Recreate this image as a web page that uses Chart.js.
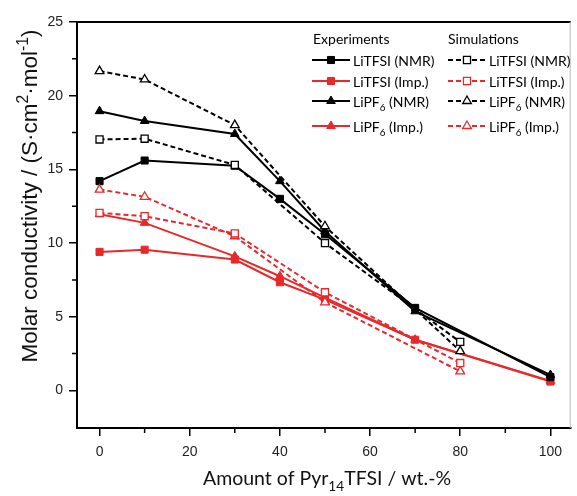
<!DOCTYPE html>
<html>
<head>
<meta charset="utf-8">
<script src="https://cdn.jsdelivr.net/npm/chart.js@4/dist/chart.umd.min.js"></script>
<style>
  html, body { margin: 0; padding: 0; background: #fff; }
  #wrap { width: 577px; height: 496px; }
</style>
</head>
<body>
<div id="wrap"><canvas id="chart" width="577" height="496"></canvas></div>
<script>
// x positions (wt.-% Pyr14TFSI)
const expX = [0, 10, 30, 40, 50, 70, 100];
const simX = [0, 10, 30, 50, 80];

// Experiments
const expTfsiNmr = [14.2, 15.6, 15.25, 13.0, 10.6, 5.6, 0.9];
const expTfsiImp = [9.4, 9.55, 8.88, 7.34, 6.16, 3.44, 0.6];
const expPf6Nmr  = [18.95, 18.28, 17.4, 14.2, 10.8, 5.37, 1.05];
const expPf6Imp  = [11.95, 11.37, 9.1, 7.75, 6.3, 3.44, 0.65];

// Simulations
const simTfsiNmr = [17.03, 17.08, 15.3, 10.0, 3.29];
const simTfsiImp = [12.05, 11.82, 10.65, 6.66, 1.86];
const simPf6Nmr  = [21.67, 21.1, 18.0, 11.14, 2.67];
const simPf6Imp  = [13.63, 13.14, 10.46, 5.98, 1.29];

// ticks
const xMajor = [0, 20, 40, 60, 80, 100];
const xMinor = [10, 30, 50, 70, 90];
const yMajor = [0, 5, 10, 15, 20, 25];
const yMinor = [2.5, 7.5, 12.5, 17.5, 22.5];

const BLACK = '#000000';
const RED = '#e8282b';

function pts(xs, ys) {
    return xs.map((x, i) => ({ x: x, y: ys[i] }));
}

function series(label, xs, ys, color, shape, sim, legendCol, legendRow) {
    return {
        label: label,
        data: pts(xs, ys),
        borderColor: color,
        backgroundColor: sim ? '#ffffff' : color,
        borderWidth: 2,
        borderDash: sim ? [5, 3] : [],
        pointStyle: shape,
        pointRadius: 5,
        pointBorderWidth: sim ? 1.3 : 1,
        pointBorderColor: color,
        pointBackgroundColor: sim ? '#ffffff' : color,
        tension: 0,
        legendCol: legendCol,
        legendRow: legendRow
    };
}

// first dataset is drawn on top, so the open (simulation) markers go first
const datasets = [
    series('LiTFSI (NMR)', simX, simTfsiNmr, BLACK, 'rect', true, 1, 0),
    series('LiTFSI (Imp.)', simX, simTfsiImp, RED, 'rect', true, 1, 1),
    series('LiPF|6| (NMR)', simX, simPf6Nmr, BLACK, 'triangle', true, 1, 2),
    series('LiPF|6| (Imp.)', simX, simPf6Imp, RED, 'triangle', true, 1, 3),
    series('LiTFSI (NMR)', expX, expTfsiNmr, BLACK, 'rect', false, 0, 0),
    series('LiTFSI (Imp.)', expX, expTfsiImp, RED, 'rect', false, 0, 1),
    series('LiPF|6| (NMR)', expX, expPf6Nmr, BLACK, 'triangle', false, 0, 2),
    series('LiPF|6| (Imp.)', expX, expPf6Imp, RED, 'triangle', false, 0, 3)
];

// rich text: parts are [text, shift] with shift 1 = superscript, -1 = subscript
function richWidth(ctx, parts, size, family) {
    let w = 0;
    parts.forEach(p => {
        const s = p[1] === 0 ? size : size * 0.7;
        ctx.font = s + 'px ' + family;
        w += ctx.measureText(p[0]).width;
    });
    return w;
}

function drawRich(ctx, parts, x, y, size, family, color) {
    ctx.fillStyle = color;
    ctx.textBaseline = 'alphabetic';
    ctx.textAlign = 'left';
    let cx = x;
    parts.forEach(p => {
        const s = p[1] === 0 ? size : size * 0.7;
        let dy = 0;
        if (p[1] === 1) dy = -size * 0.42;
        if (p[1] === -1) dy = size * 0.3;
        ctx.font = s + 'px ' + family;
        ctx.fillText(p[0], cx, y + dy);
        cx += ctx.measureText(p[0]).width;
    });
}

// "LiPF|6| (NMR)" -> [['LiPF',0],['6',-1],[' (NMR)',0]]
function labelParts(label) {
    return label.split('|').map((t, i) => [t, i % 2 === 1 ? -1 : 0]).filter(p => p[0].length);
}

const yTitle = [['Molar conductivity / (S\u00b7cm', 0], ['2', 1], ['\u00b7mol', 0], ['-1', 1], [')', 0]];
const xTitle = [['Amount of Pyr', 0], ['14', -1], ['TFSI / wt.-%', 0]];

const framePlugin = {
    id: 'frame',
    afterDraw(chart) {
        const ctx = chart.ctx;
        const a = chart.chartArea;
        const xs = chart.scales.x;
        const ys = chart.scales.y;
        ctx.save();

        // top and right frame
        ctx.strokeStyle = '#000';
        ctx.lineWidth = 2;
        ctx.beginPath();
        ctx.moveTo(a.left, a.top);
        ctx.lineTo(a.right, a.top);
        ctx.stroke();
        ctx.strokeStyle = '#bbb';
        ctx.lineWidth = 1;
        ctx.beginPath();
        ctx.moveTo(a.right - 0.5, a.top);
        ctx.lineTo(a.right - 0.5, a.bottom);
        ctx.stroke();

        // minor ticks
        ctx.strokeStyle = '#000';
        ctx.lineWidth = 1.5;
        ctx.beginPath();
        xMinor.forEach(v => {
            const px = xs.getPixelForValue(v);
            ctx.moveTo(px, a.bottom);
            ctx.lineTo(px, a.bottom + 5);
        });
        yMinor.forEach(v => {
            const py = ys.getPixelForValue(v);
            ctx.moveTo(a.left, py);
            ctx.lineTo(a.left - 5, py);
        });
        ctx.stroke();

        // axis titles
        const yFam = '"Liberation Sans", Arial, sans-serif';
        const yw = richWidth(ctx, yTitle, 22.5, yFam);
        ctx.save();
        ctx.translate(37, 196);
        ctx.rotate(-Math.PI / 2);
        drawRich(ctx, yTitle, -yw / 2, 0, 22.5, yFam, '#111');
        ctx.restore();

        const xFam = 'Lato, sans-serif';
        const xw = richWidth(ctx, xTitle, 19.5, xFam);
        drawRich(ctx, xTitle, 327 - xw / 2, 485, 19.5, xFam, '#111');

        // legend
        const lFam = 'Lato, sans-serif';
        drawRich(ctx, [['Experiments', 0]], 313, 44, 14, lFam, '#000');
        drawRich(ctx, [['Simulations', 0]], 448, 44, 14, lFam, '#000');
        const colX = [312, 448];
        const rowY = [60, 81, 101, 126];
        chart.data.datasets.forEach(ds => {
            const x0 = colX[ds.legendCol];
            const y0 = rowY[ds.legendRow];
            ctx.strokeStyle = ds.borderColor;
            ctx.lineWidth = 2;
            ctx.setLineDash(ds.borderDash);
            ctx.beginPath();
            ctx.moveTo(x0, y0);
            ctx.lineTo(x0 + 38, y0);
            ctx.stroke();
            ctx.setLineDash([]);
            ctx.fillStyle = ds.pointBackgroundColor;
            ctx.strokeStyle = ds.pointBorderColor;
            ctx.lineWidth = ds.pointBorderWidth;
            Chart.helpers.drawPoint(ctx, {
                pointStyle: ds.pointStyle,
                radius: ds.pointRadius,
                borderWidth: ds.pointBorderWidth,
                rotation: 0
            }, x0 + 19, y0);
            drawRich(ctx, labelParts(ds.label), x0 + 41, y0 + 5.5, 14, lFam, '#000');
        });

        ctx.restore();
    }
};

new Chart(document.getElementById('chart'), {
    type: 'line',
    data: { datasets: datasets },
    options: {
        responsive: false,
        animation: false,
        layout: { padding: { top: 22, right: 1, left: 0, bottom: 0 } },
        plugins: {
            legend: { display: false },
            tooltip: { enabled: false }
        },
        scales: {
            x: {
                type: 'linear',
                position: 'bottom',
                min: -5,
                max: 104.5,
                afterBuildTicks: s => { s.ticks = xMajor.map(v => ({ value: v })); },
                afterFit: s => { s.height = 68; },
                ticks: {
                    autoSkip: false,
                    maxRotation: 0,
                    padding: 8,
                    color: '#222',
                    font: { family: '"Liberation Sans", Arial, sans-serif', size: 14 }
                },
                grid: { drawOnChartArea: false, drawTicks: true, tickLength: 8, color: '#000', lineWidth: 1.5 },
                border: { display: true, color: '#000', width: 2 }
            },
            y: {
                type: 'linear',
                min: -2.55,
                max: 25,
                afterBuildTicks: s => { s.ticks = yMajor.map(v => ({ value: v })); },
                afterFit: s => { s.width = 77; },
                ticks: {
                    padding: 6,
                    color: '#222',
                    font: { family: '"Liberation Sans", Arial, sans-serif', size: 14 }
                },
                grid: { drawOnChartArea: false, drawTicks: true, tickLength: 8, color: '#000', lineWidth: 1.5 },
                border: { display: true, color: '#000', width: 2 }
            }
        }
    },
    plugins: [framePlugin]
});
</script>
</body>
</html>
